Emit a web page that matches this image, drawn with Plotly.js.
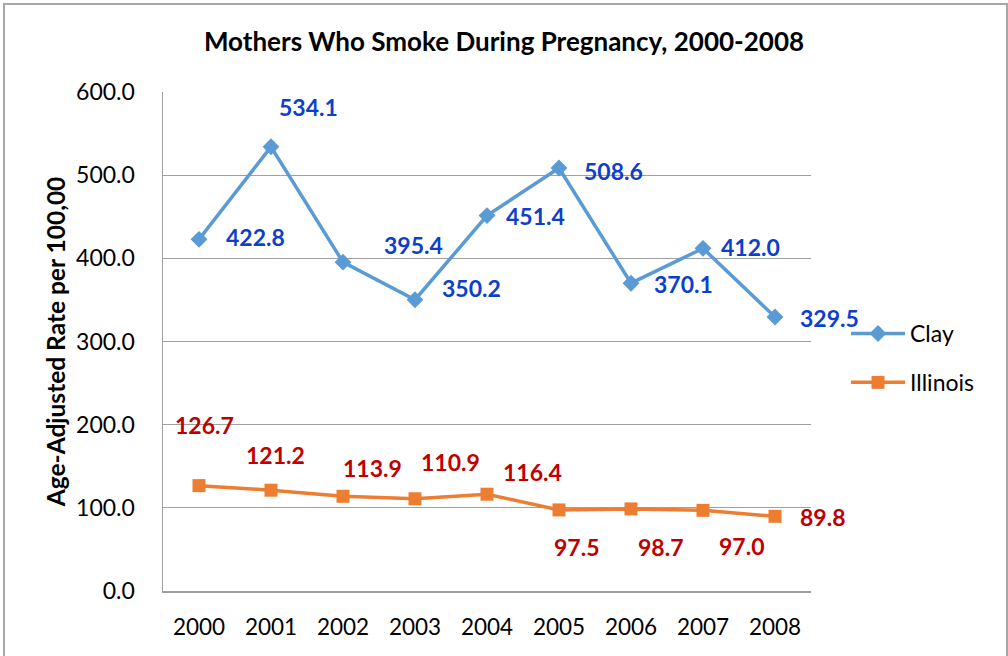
<!DOCTYPE html>
<html>
<head>
<meta charset="utf-8">
<script src="https://cdn.plot.ly/plotly-3.0.1.min.js"></script>
<style>
  html, body { margin: 0; padding: 0; background: #fff; }
  #wrap { position: relative; width: 1008px; height: 656px; overflow: hidden; }
  #chart { width: 1008px; height: 656px; }
  #frame { position: absolute; left: 3px; top: 3px; width: 1001px; height: 700px;
           border: 2px solid #A6A6A6; pointer-events: none; }
</style>
</head>
<body>
<div id="wrap">
  <div id="chart"></div>
  <div id="frame"></div>
</div>
<script>
const years = ['2000','2001','2002','2003','2004','2005','2006','2007','2008'];
const clay = [422.8, 534.1, 395.4, 350.2, 451.4, 508.6, 370.1, 412.0, 329.5];
const illinois = [126.7, 121.2, 113.9, 110.9, 116.4, 97.5, 98.7, 97.0, 89.8];
const yTicks = [0, 100, 200, 300, 400, 500, 600];

// label offsets in pixels (dx, dy-up) relative to each point
const clayDx = [56, 37, 70, 56, 48, 54, 52, 47, 54];
const clayDy = [2, 40, 17, 12, 0, -3, -1, 1, -1];
const ilDx = [5, 4, 29, 35, 45, 17, 29, 38, 47];
const ilDy = [61, 35, 28, 37, 22, -37, -38, -36, -1];

const FONT = 'Lato, "Open Sans", "Liberation Sans", sans-serif';

const traces = [
  {
    x: years, y: clay, name: 'Clay', type: 'scatter', mode: 'lines+markers',
    line: {color: '#5B9BD5', width: 3.5},
    marker: {symbol: 'diamond', size: 13, color: '#5B9BD5'},
    legendgroup: 'a'
  },
  {
    x: years, y: illinois, name: 'Illinois', type: 'scatter', mode: 'lines+markers',
    line: {color: '#ED7D31', width: 3.5},
    marker: {symbol: 'square', size: 13, color: '#ED7D31'},
    legendgroup: 'b'
  }
];

const annotations = [];
years.forEach((yr, i) => {
  annotations.push({
    x: i, y: clay[i], xref: 'x', yref: 'y', text: '<b>' + clay[i].toFixed(1) + '</b>',
    showarrow: false, xshift: clayDx[i], yshift: clayDy[i],
    font: {family: FONT, size: 23, color: '#0D3ECC'}
  });
  annotations.push({
    x: i, y: illinois[i], xref: 'x', yref: 'y', text: '<b>' + illinois[i].toFixed(1) + '</b>',
    showarrow: false, xshift: ilDx[i], yshift: ilDy[i],
    font: {family: FONT, size: 23, color: '#C00000'}
  });
});

const layout = {
  width: 1008, height: 656,
  margin: {l: 163, r: 197, t: 92, b: 65},
  paper_bgcolor: '#fff', plot_bgcolor: '#fff',
  font: {family: FONT, size: 23, color: '#000'},
  title: {
    text: '<b>Mothers Who Smoke During Pregnancy, 2000-2008</b>',
    x: 0.5, xref: 'container', y: 1 - 42/656, yref: 'container', yanchor: 'middle',
    font: {family: FONT, size: 26, color: '#000'}
  },
  xaxis: {
    type: 'category', categoryorder: 'array', categoryarray: years,
    range: [-0.5, years.length - 0.5], autorange: false,
    showgrid: false, showline: true, linecolor: '#A0A0A0', linewidth: 1.5,
    ticks: '', ticklabelstandoff: 15, zeroline: false,
    tickfont: {family: FONT, size: 22.5, color: '#000'}
  },
  yaxis: {
    range: [0, 600], autorange: false, tickvals: yTicks, ticktext: yTicks.map(v => v.toFixed(1)),
    showgrid: true, gridcolor: '#A0A0A0', gridwidth: 1.2,
    showline: true, linecolor: '#A0A0A0', linewidth: 1.5,
    zeroline: false, ticks: '', ticklabelstandoff: 22,
    tickfont: {family: FONT, size: 23, color: '#000'},
    title: {text: '<b>Age-Adjusted Rate per 100,00</b>', font: {family: FONT, size: 24.5, color: '#000'}, standoff: 3}
  },
  showlegend: true,
  legend: {
    x: 1.054, xanchor: 'left', y: (591 - 312) / 499, yanchor: 'top',
    traceorder: 'grouped', tracegroupgap: 16, itemwidth: 54,
    font: {family: FONT, size: 23, color: '#000'},
    bgcolor: 'rgba(0,0,0,0)', borderwidth: 0
  },
  annotations: annotations
};

Plotly.newPlot('chart', traces, layout, {displayModeBar: false, staticPlot: true});
</script>
</body>
</html>
